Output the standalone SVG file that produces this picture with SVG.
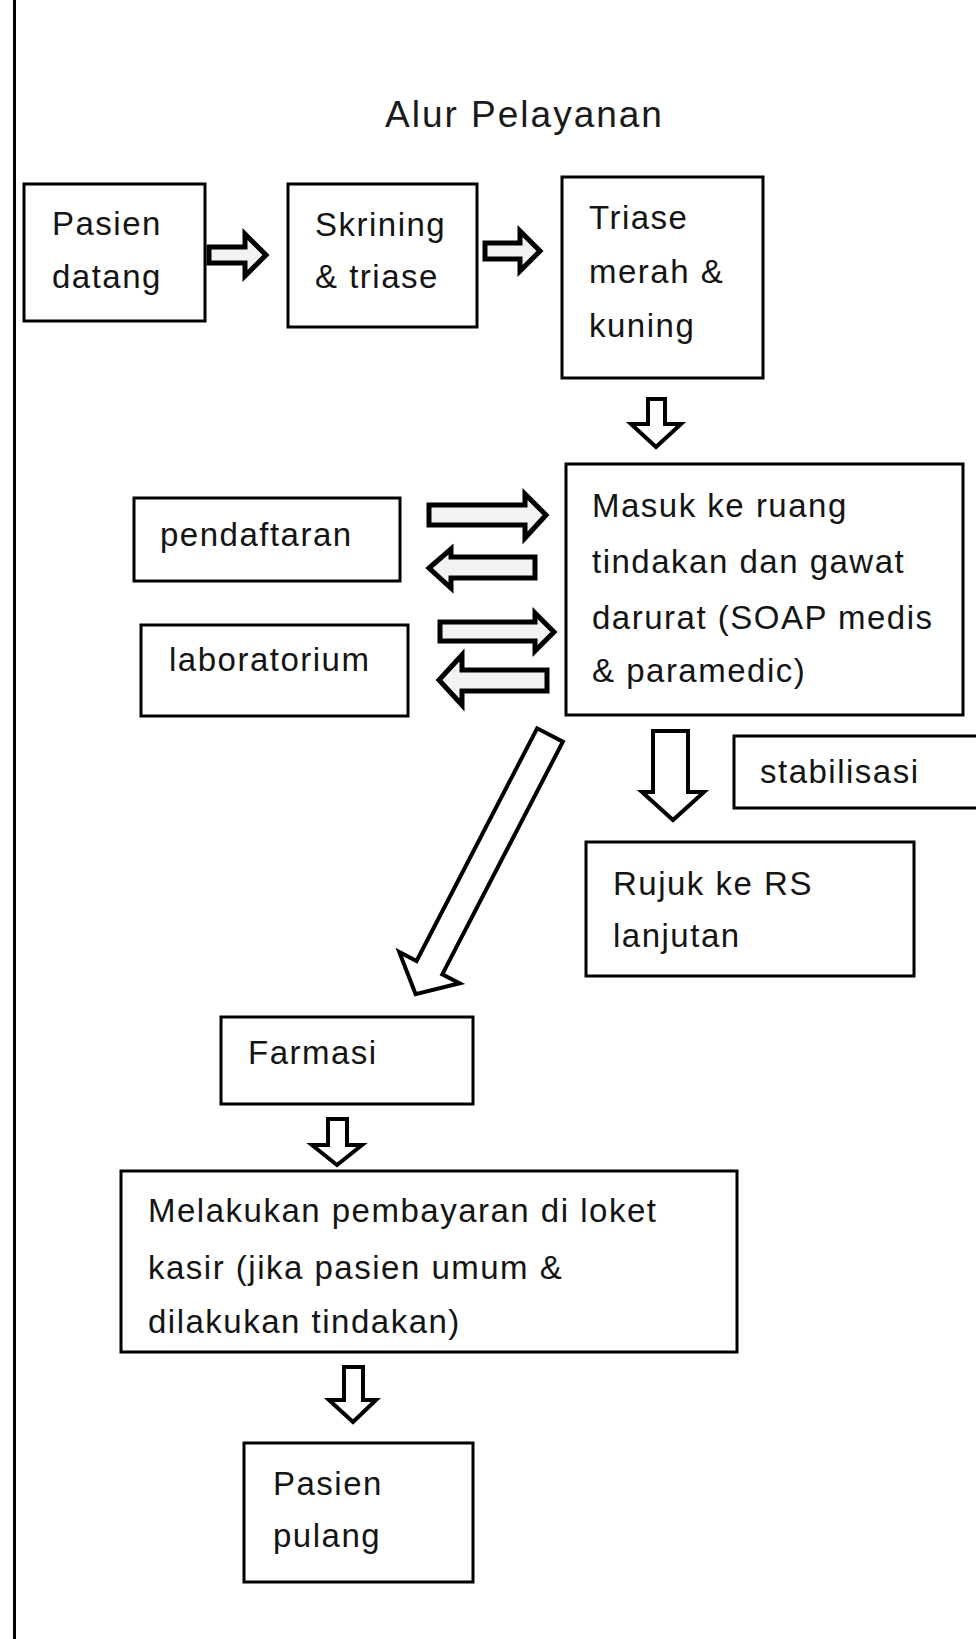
<svg xmlns="http://www.w3.org/2000/svg" width="976" height="1639" viewBox="0 0 976 1639">
<style>
.box{fill:#fff;stroke:#000;stroke-width:3}
.arr{fill:#fff;stroke:#000;stroke-width:4;stroke-linejoin:miter}
.arh{fill:#f2f2f2;stroke:#000;stroke-width:5;stroke-linejoin:miter}
.t{font-family:"Liberation Sans",Arial,sans-serif;font-size:33px;letter-spacing:1.5px;fill:#141414}
.title{font-family:"Liberation Sans",Arial,sans-serif;font-size:37px;letter-spacing:2px;fill:#1a1a1a}
</style>
<rect width="976" height="1639" fill="#fff"/>
<line x1="14.5" y1="0" x2="14.5" y2="1639" stroke="#000" stroke-width="3"/>
<text class="title" x="385" y="127">Alur Pelayanan</text>

<g id="connectors">
<polygon class="arh" points="209,247 245,247 245,234 266,255 245,276 245,263 209,263"/>
<polygon class="arh" points="485,243 520,243 520,231 540,251 520,271 520,259 485,259"/>
<polygon class="arr" points="648,399 665,399 665,424 681,424 656,447 631,424 648,424"/>
<polygon class="arh" points="429,505 525,505 525,494 546,515 525,538 525,525 429,525"/>
<polygon class="arh" points="535,557 451,557 451,549 429,568 451,588 451,578 535,578"/>
<polygon class="arh" points="440,622 535,622 535,613 554,632 535,651 535,641 440,641"/>
<polygon class="arh" points="547,670 462,670 462,655 439,680 462,705 462,691 547,691"/>
<polygon class="arr" points="653,731 688,731 688,792 704,792 673,820 642,792 653,792"/>
<polygon class="arr" transform="translate(550,735) rotate(117.4)" points="0,-14.5 262,-14.5 262,-34 292,0 262,34 262,14.5 0,14.5"/>
<polygon class="arr" points="328,1119 347,1119 347,1145 362,1145 337,1165 312,1145 328,1145"/>
<polygon class="arr" points="344,1367 363,1367 363,1400 376,1400 353,1422 329,1400 344,1400"/>
</g>

<g id="pasien-datang">
<rect class="box" x="24" y="184" width="181" height="137"/>
<text class="t" x="52" y="235">Pasien</text>
<text class="t" x="52" y="288">datang</text>
</g>
<g id="skrining">
<rect class="box" x="288" y="184" width="189" height="143"/>
<text class="t" x="315" y="236">Skrining</text>
<text class="t" x="315" y="288">&amp; triase</text>
</g>
<g id="triase">
<rect class="box" x="562" y="177" width="201" height="201"/>
<text class="t" x="589" y="229">Triase</text>
<text class="t" x="589" y="283">merah &amp;</text>
<text class="t" x="589" y="337">kuning</text>
</g>
<g id="masuk">
<rect class="box" x="566" y="464" width="397" height="251"/>
<text class="t" x="592" y="517">Masuk ke ruang</text>
<text class="t" x="592" y="573">tindakan dan gawat</text>
<text class="t" x="592" y="629">darurat (SOAP medis</text>
<text class="t" x="592" y="682">&amp; paramedic)</text>
</g>
<g id="pendaftaran">
<rect class="box" x="134" y="498" width="266" height="83"/>
<text class="t" x="160" y="546">pendaftaran</text>
</g>
<g id="laboratorium">
<rect class="box" x="141" y="625" width="267" height="91"/>
<text class="t" x="169" y="671">laboratorium</text>
</g>
<g id="stabilisasi">
<rect class="box" x="734" y="736" width="260" height="72"/>
<text class="t" x="760" y="783">stabilisasi</text>
</g>
<g id="rujuk">
<rect class="box" x="586" y="842" width="328" height="134"/>
<text class="t" x="613" y="895">Rujuk ke RS</text>
<text class="t" x="613" y="947">lanjutan</text>
</g>
<g id="farmasi">
<rect class="box" x="221" y="1017" width="252" height="87"/>
<text class="t" x="248" y="1064">Farmasi</text>
</g>
<g id="pembayaran">
<rect class="box" x="121" y="1171" width="616" height="181"/>
<text class="t" x="148" y="1222">Melakukan pembayaran di loket</text>
<text class="t" x="148" y="1279">kasir (jika pasien umum &amp;</text>
<text class="t" x="148" y="1333">dilakukan tindakan)</text>
</g>
<g id="pasien-pulang">
<rect class="box" x="244" y="1443" width="229" height="139"/>
<text class="t" x="273" y="1495">Pasien</text>
<text class="t" x="273" y="1547">pulang</text>
</g>
</svg>
